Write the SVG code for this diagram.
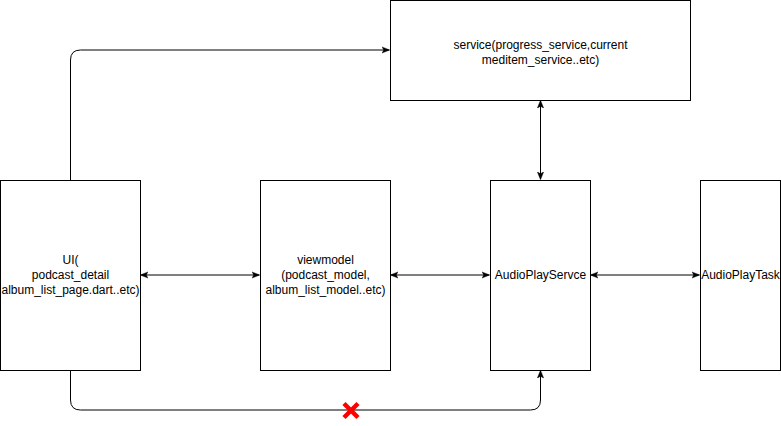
<svg xmlns="http://www.w3.org/2000/svg" width="781" height="426" viewBox="0 0 781 426">
<style>
.box{fill:#fff;stroke:#000;stroke-width:1}
.lbl{font-family:"Liberation Sans",Arial,sans-serif;font-size:12px;fill:#000;text-anchor:middle;dominant-baseline:central}
.conn{fill:none;stroke:#000;stroke-width:1}
</style>
<defs>
<marker id="arr" viewBox="0 0 10 10" refX="9" refY="5" markerWidth="8" markerHeight="8" markerUnits="userSpaceOnUse" orient="auto-start-reverse">
<path d="M0,1 L10,5 L0,9 L2.5,5 Z" fill="#000" stroke="#000" stroke-width="0.5"/>
</marker>
</defs>
<rect width="781" height="426" fill="#fff"/>
<g id="connectors">
<path class="conn" d="M70.5,180 V60 Q70.5,50 80.5,50 H389" marker-end="url(#arr)"/>
<path class="conn" d="M540.5,101 V179" marker-start="url(#arr)" marker-end="url(#arr)"/>
<path class="conn" d="M141,275 H259" marker-start="url(#arr)" marker-end="url(#arr)"/>
<path class="conn" d="M391,275 H489" marker-start="url(#arr)" marker-end="url(#arr)"/>
<path class="conn" d="M591,275 H699" marker-start="url(#arr)" marker-end="url(#arr)"/>
<path class="conn" d="M70.5,370 V400 Q70.5,410 80.5,410 H530.5 Q540.5,410 540.5,400 V371" marker-end="url(#arr)"/>
<g id="cross">
<path d="M344,403.5 L358,417.5 M358,403.5 L344,417.5" stroke="#ff0000" stroke-width="4.5" fill="none"/>
</g>
</g>
<g id="service">
<rect class="box" x="390.5" y="0.5" width="300" height="100"/>
<text class="lbl" x="540.5" y="45">service(progress_service,current</text>
<text class="lbl" x="540.5" y="60">meditem_service..etc)</text>
</g>
<g id="ui">
<rect class="box" x="0.5" y="180.5" width="140" height="190"/>
<text class="lbl" x="70.5" y="260">UI(</text>
<text class="lbl" x="70.5" y="275">podcast_detail</text>
<text class="lbl" x="70.5" y="290">album_list_page.dart..etc)</text>
</g>
<g id="viewmodel">
<rect class="box" x="260.5" y="180.5" width="130" height="190"/>
<text class="lbl" x="325.5" y="260">viewmodel</text>
<text class="lbl" x="325.5" y="275">(podcast_model,</text>
<text class="lbl" x="325.5" y="290">album_list_model..etc)</text>
</g>
<g id="audioplayservice">
<rect class="box" x="490.5" y="180.5" width="100" height="190"/>
<text class="lbl" x="540.5" y="275">AudioPlayServce</text>
</g>
<g id="audioplaytask">
<rect class="box" x="700.5" y="180.5" width="80" height="190"/>
<text class="lbl" x="740.5" y="275">AudioPlayTask</text>
</g>
</svg>
